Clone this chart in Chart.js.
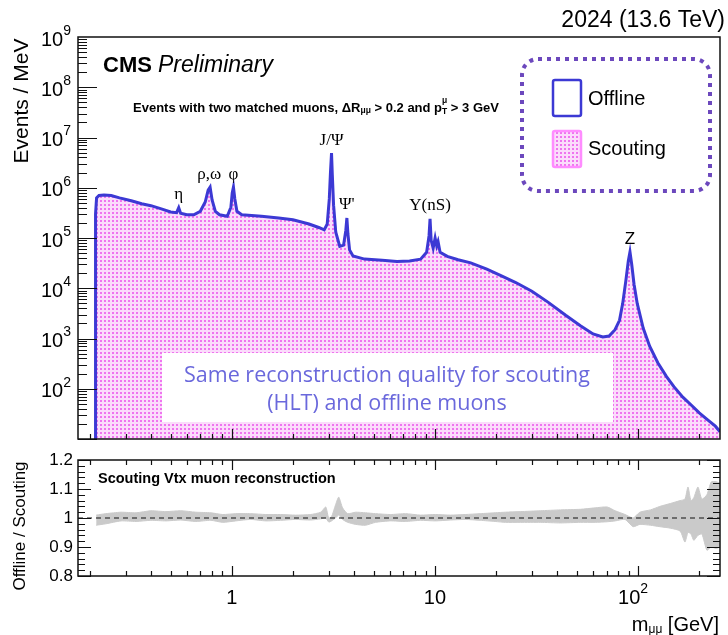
<!DOCTYPE html>
<html>
<head>
<meta charset="utf-8">
<script src="https://cdn.jsdelivr.net/npm/chart.js@4.4.1/dist/chart.umd.min.js"></script>
<style>
  html, body { margin: 0; padding: 0; background: #fff; }
  #wrap { position: relative; width: 728px; height: 635px; overflow: hidden; }
  canvas { position: absolute; left: 0; }
  #top { top: 0; }
  #ratio { top: 450px; }
</style>
</head>
<body>
<div id="wrap">
  <canvas id="top" width="728" height="450"></canvas>
  <canvas id="ratio" width="728" height="185"></canvas>
</div>
<script>
// Dimuon invariant mass spectrum, events per MeV
const massGeV = [
  0.2125, 0.2135, 0.216, 0.222, 0.235, 0.255, 0.28, 0.32, 0.36, 0.40,
  0.45, 0.50, 0.535, 0.548, 0.56, 0.60, 0.65, 0.70, 0.74, 0.765,
  0.782, 0.80, 0.83, 0.87, 0.95, 0.99, 1.005, 1.019, 1.035, 1.06,
  1.12, 1.4, 1.7, 2.0, 2.4, 2.7, 2.85, 2.95, 3.02, 3.06,
  3.097, 3.125, 3.17, 3.25, 3.4, 3.55, 3.64, 3.686, 3.73, 3.8,
  3.95, 4.5, 5.5, 6.5, 7.5, 8.5, 9.1, 9.35, 9.46, 9.58,
  9.8, 10.02, 10.2, 10.36, 10.6, 11.5, 13, 15, 18, 21,
  25, 30, 36, 44, 52, 60, 67, 72, 77, 81,
  84, 87, 89.5, 91.2, 93, 95.5, 99, 106, 114, 125,
  138, 150, 166, 182, 200, 220, 240, 253
];
const offlineEvents = [
  10, 3.0e5, 6.3e5, 7.0e5, 7.2e5, 7.0e5, 6.3e5, 5.5e5, 4.8e5, 4.4e5,
  3.8e5, 3.3e5, 3.2e5, 4.0e5, 3.1e5, 2.9e5, 2.9e5, 3.4e5, 5.2e5, 9.0e5,
  1.03e6, 5.7e5, 3.4e5, 2.9e5, 2.7e5, 4.1e5, 7.9e5, 1.03e6, 6.0e5, 3.4e5,
  2.9e5, 2.7e5, 2.5e5, 2.3e5, 1.9e5, 1.6e5, 1.45e5, 1.9e5, 6.0e5, 2.0e6,
  4.9e6, 1.8e6, 4.5e5, 1.3e5, 6.8e4, 7.2e4, 1.4e5, 2.5e5, 1.2e5, 5.8e4,
  4.4e4, 3.8e4, 3.6e4, 3.4e4, 3.5e4, 3.8e4, 5.2e4, 1.1e5, 2.4e5, 9.0e4,
  6.3e4, 1.0e5, 7.0e4, 8.5e4, 5.2e4, 4.3e4, 3.7e4, 3.2e4, 2.4e4, 1.8e4,
  1.3e4, 8.7e3, 5.3e3, 2.9e3, 1.8e3, 1.23e3, 1.07e3, 1.12e3, 1.5e3, 2.3e3,
  5.0e3, 1.4e4, 3.5e4, 5.3e4, 3.0e4, 1.2e4, 5.0e3, 1.6e3, 700, 330,
  175, 110, 68, 48, 33, 24, 18, 14
];
const scoutingEvents = [
  10, 3.0e5, 6.3e5, 7.0e5, 7.2e5, 7.0e5, 6.3e5, 5.5e5, 4.8e5, 4.4e5,
  3.8e5, 3.3e5, 3.2e5, 4.0e5, 3.1e5, 2.9e5, 2.9e5, 3.4e5, 5.2e5, 9.0e5,
  1.03e6, 5.7e5, 3.4e5, 2.9e5, 2.7e5, 4.1e5, 7.9e5, 1.03e6, 6.0e5, 3.4e5,
  2.9e5, 2.7e5, 2.5e5, 2.3e5, 1.9e5, 1.6e5, 1.45e5, 1.9e5, 6.0e5, 2.0e6,
  4.9e6, 1.8e6, 4.5e5, 1.3e5, 6.8e4, 7.2e4, 1.4e5, 2.5e5, 1.2e5, 5.8e4,
  4.4e4, 3.8e4, 3.6e4, 3.4e4, 3.5e4, 3.8e4, 5.2e4, 1.1e5, 2.4e5, 9.0e4,
  6.3e4, 1.0e5, 7.0e4, 8.5e4, 5.2e4, 4.3e4, 3.7e4, 3.2e4, 2.4e4, 1.8e4,
  1.3e4, 8.7e3, 5.3e3, 2.9e3, 1.8e3, 1.23e3, 1.07e3, 1.12e3, 1.5e3, 2.3e3,
  5.0e3, 1.4e4, 3.5e4, 5.3e4, 3.0e4, 1.2e4, 5.0e3, 1.6e3, 700, 330,
  175, 110, 68, 48, 33, 24, 18, 14
];

// Offline / Scouting ratio uncertainty band
const ratioMass = [
  0.215, 0.24, 0.285, 0.338, 0.40, 0.474, 0.561, 0.665, 0.789, 0.903,
  1.046, 1.24, 1.47, 1.74, 2.06, 2.44, 2.74, 2.90, 3.0, 3.10,
  3.24, 3.36, 3.51, 3.72, 4.07, 4.55, 5.10, 6.04, 7.16, 8.49,
  10.05, 11.9, 14.1, 16.7, 19.8, 22.2, 26.3, 33.0, 41.4, 51.9,
  61.5, 70.4, 77.1, 86.3, 94.5, 102, 115, 128, 144, 161,
  170, 176, 182, 188, 197, 206, 218, 229, 242, 253
];
const ratioLow = [
  0.975, 0.980, 0.990, 0.988, 0.992, 0.990, 0.993, 0.988, 0.992, 0.985,
  0.990, 0.995, 0.990, 0.992, 0.995, 0.993, 0.997, 1.000, 0.986, 0.990,
  1.000, 1.010, 0.995, 0.985, 0.978, 0.975, 0.985, 0.990, 0.988, 0.992,
  0.990, 0.993, 0.995, 0.992, 0.988, 0.985, 0.985, 0.985, 0.983, 0.985,
  0.985, 0.987, 0.990, 0.995, 0.970, 0.978, 0.975, 0.970, 0.965, 0.955,
  0.917, 0.950, 0.945, 0.923, 0.940, 0.945, 0.889, 0.900, 0.895, 0.900
];
const ratioHigh = [
  1.010, 1.015, 1.020, 1.018, 1.025, 1.022, 1.025, 1.020, 1.018, 1.012,
  1.015, 1.015, 1.012, 1.012, 1.010, 1.012, 1.020, 1.038, 1.000, 1.005,
  1.045, 1.072, 1.035, 1.015, 1.020, 1.018, 1.015, 1.012, 1.015, 1.010,
  1.012, 1.010, 1.012, 1.015, 1.018, 1.020, 1.022, 1.025, 1.028, 1.030,
  1.035, 1.038, 1.025, 1.012, 1.000, 1.020, 1.028, 1.040, 1.050, 1.060,
  1.065, 1.107, 1.060, 1.070, 1.107, 1.065, 1.080, 1.124, 1.125, 1.120
];

// Resonance labels
const peakNames = ['η', 'ρ,ω', 'φ', 'J/Ψ', "Ψ'", 'Υ(nS)', 'Z'];
const peakMass = [0.548, 0.775, 1.019, 3.097, 3.686, 9.46, 91.2];

// Axis ticks and labels
const yExponents = [2, 3, 4, 5, 6, 7, 8, 9];
const xLabelValues = [1, 10, 100];
const xLabelBases = ['1', '10', '10'];
const xLabelPowers = ['', '', '2'];
const ratioTickValues = [0.8, 0.9, 1.0, 1.1, 1.2];
const ratioTickTexts = ['0.8', '0.9', '1', '1.1', '1.2'];

const X_MIN = 0.175, X_MAX = 253;
const SANS = '"Liberation Sans", Arial, Helvetica, sans-serif';
const SERIF = '"Liberation Serif", "Times New Roman", serif';
const LINE_BLUE = '#3c39d4';

function pts(xs, ys) { return xs.map((m, i) => ({ x: m, y: ys[i] })); }

function dotPattern() {
  const c = document.createElement('canvas');
  c.width = 4; c.height = 4;
  const g = c.getContext('2d');
  g.fillStyle = '#fbdcfb'; g.fillRect(0, 0, 4, 4);
  g.fillStyle = '#ef74ef'; g.fillRect(0, 0, 2, 2);
  return g.createPattern(c, 'repeat');
}

// Draws a run of text pieces with individual fonts and vertical shifts
function drawRun(ctx, x, y, parts, align, color) {
  ctx.save();
  ctx.textBaseline = 'middle';
  ctx.textAlign = 'left';
  let total = 0;
  for (const p of parts) {
    ctx.font = p.f;
    p.w = p.noAdvance ? 0 : ctx.measureText(p.t).width;
    total += p.w;
  }
  let cx = align === 'right' ? x - total : align === 'center' ? x - total / 2 : x;
  for (const p of parts) {
    ctx.font = p.f;
    ctx.fillStyle = p.c || color || '#000';
    ctx.fillText(p.t, cx, y + (p.dy || 0));
    cx += p.w;
  }
  ctx.restore();
}

function minorLogValues(min, max) {
  const out = [];
  for (let d = -1; d <= 8; d++) {
    for (let k = 1; k <= 9; k++) {
      const v = k * Math.pow(10, d);
      if (v >= min * 0.999 && v <= max * 1.001) out.push({ v, major: k === 1 });
    }
  }
  return out;
}

const pattern = dotPattern();

// ---------- Upper panel ----------
const topPlugin = {
  id: 'topDecor',
  afterDatasetsDraw(chart) {
    const { ctx, scales: { x, y } } = chart;

    // peak labels
    peakNames.forEach((name, i) => {
      let best = 0;
      massGeV.forEach((m, j) => {
        if (Math.abs(Math.log(m / peakMass[i])) < Math.abs(Math.log(massGeV[best] / peakMass[i]))) best = j;
      });
      const px = x.getPixelForValue(peakMass[i]);
      const py = y.getPixelForValue(offlineEvents[best]) - 13;
      const font = name === 'Z' ? '17px ' + SANS : '17px ' + SERIF;
      drawRun(ctx, px, py, [{ t: name, f: font }], 'center');
    });

    // note box
    ctx.save();
    ctx.fillStyle = '#ffffff';
    ctx.fillRect(162, 353, 451, 69);
    ctx.restore();
    const noteFont = '21.5px "Open Sans", Lato, sans-serif';
    drawRun(ctx, 387, 376, [{ t: 'Same reconstruction quality for scouting', f: noteFont }], 'center', '#6a68dc');
    drawRun(ctx, 387, 404, [{ t: '(HLT) and offline muons', f: noteFont }], 'center', '#6a68dc');

    // legend
    ctx.save();
    ctx.strokeStyle = '#6c48bd';
    ctx.lineWidth = 4;
    ctx.setLineDash([4, 5]);
    ctx.beginPath();
    ctx.roundRect(522, 59, 188, 132, 16);
    ctx.stroke();
    ctx.setLineDash([]);
    ctx.strokeStyle = LINE_BLUE;
    ctx.lineWidth = 2.5;
    ctx.beginPath();
    ctx.roundRect(553, 80, 28, 36, 2);
    ctx.stroke();
    ctx.fillStyle = pattern;
    ctx.fillRect(553, 131, 28, 36);
    ctx.strokeStyle = '#ff8cff';
    ctx.lineWidth = 2.5;
    ctx.beginPath();
    ctx.roundRect(553, 131, 28, 36, 2);
    ctx.stroke();
    ctx.restore();
    drawRun(ctx, 588, 99, [{ t: 'Offline', f: '20px ' + SANS }], 'left');
    drawRun(ctx, 588, 149, [{ t: 'Scouting', f: '20px ' + SANS }], 'left');
  },
  afterDraw(chart) {
    const { ctx, chartArea: a, scales: { x, y } } = chart;
    ctx.save();
    ctx.strokeStyle = '#111';
    ctx.lineWidth = 1.5;
    ctx.strokeRect(a.left, a.top, a.right - a.left, a.bottom - a.top);
    ctx.lineWidth = 1.2;
    ctx.beginPath();
    // x ticks along the bottom
    for (const t of minorLogValues(X_MIN, X_MAX)) {
      const px = Math.round(x.getPixelForValue(t.v)) + 0.5;
      const len = t.major ? 10 : 5;
      ctx.moveTo(px, a.bottom); ctx.lineTo(px, a.bottom - len);
    }
    // y ticks along the left
    for (const t of minorLogValues(10, 1e9)) {
      const py = Math.round(y.getPixelForValue(t.v)) + 0.5;
      const len = t.major ? 19 : 9;
      ctx.moveTo(a.left, py); ctx.lineTo(a.left + len, py);
    }
    ctx.stroke();
    ctx.restore();

    // y tick labels
    yExponents.forEach(e => {
      const py = y.getPixelForValue(Math.pow(10, e));
      drawRun(ctx, 71, py + 3, [
        { t: '10', f: '20px ' + SANS },
        { t: String(e), f: '14px ' + SANS, dy: -9 }
      ], 'right');
    });

    // axis title
    ctx.save();
    ctx.translate(22, 101);
    ctx.rotate(-Math.PI / 2);
    drawRun(ctx, 0, 0, [{ t: 'Events / MeV', f: '21px ' + SANS }], 'center');
    ctx.restore();

    // headers
    drawRun(ctx, 725, 21, [{ t: '2024 (13.6 TeV)', f: '23px ' + SANS }], 'right');
    drawRun(ctx, 103, 66, [
      { t: 'CMS ', f: 'bold 22px ' + SANS },
      { t: 'Preliminary', f: 'italic 23px ' + SANS }
    ], 'left');
    const b = 'bold 13px ' + SANS, bs = 'bold 8.5px ' + SANS;
    drawRun(ctx, 133, 108, [
      { t: 'Events with two matched muons, ΔR', f: b },
      { t: 'μμ', f: bs, dy: 3 },
      { t: ' > 0.2 and p', f: b },
      { t: 'μ', f: bs, dy: -7, noAdvance: true },
      { t: 'T', f: bs, dy: 4 },
      { t: ' > 3 GeV', f: b }
    ], 'left');
  }
};

new Chart(document.getElementById('top'), {
  type: 'line',
  data: {
    datasets: [
      {
        label: 'Offline',
        data: pts(massGeV, offlineEvents),
        borderColor: LINE_BLUE,
        borderWidth: 3,
        pointRadius: 0,
        tension: 0,
        fill: false
      },
      {
        label: 'Scouting',
        data: pts(massGeV, scoutingEvents),
        borderColor: 'rgba(0,0,0,0)',
        borderWidth: 0,
        backgroundColor: pattern,
        pointRadius: 0,
        tension: 0,
        fill: 'start'
      }
    ]
  },
  options: {
    responsive: false,
    animation: false,
    devicePixelRatio: 1,
    layout: { padding: { left: 78, right: 8, top: 37, bottom: 11 } },
    plugins: { legend: { display: false }, tooltip: { enabled: false } },
    scales: {
      x: { type: 'logarithmic', min: X_MIN, max: X_MAX, display: false },
      y: { type: 'logarithmic', min: 10, max: 1e9, display: false }
    }
  },
  plugins: [topPlugin]
});

// ---------- Ratio panel ----------
const ratioPlugin = {
  id: 'ratioDecor',
  afterDraw(chart) {
    const { ctx, chartArea: a, scales: { x, y } } = chart;
    ctx.save();
    ctx.strokeStyle = '#111';
    ctx.lineWidth = 1.5;
    ctx.strokeRect(a.left, a.top, a.right - a.left, a.bottom - a.top);
    ctx.lineWidth = 1.2;
    ctx.beginPath();
    for (const t of minorLogValues(X_MIN, X_MAX)) {
      const px = Math.round(x.getPixelForValue(t.v)) + 0.5;
      const len = t.major ? 10 : 5;
      ctx.moveTo(px, a.bottom); ctx.lineTo(px, a.bottom - len);
      ctx.moveTo(px, a.top); ctx.lineTo(px, a.top + len);
    }
    for (let k = 0; k <= 20; k++) {
      const v = 0.8 + k * 0.02;
      const py = Math.round(y.getPixelForValue(v)) + 0.5;
      const len = k % 5 === 0 ? 13 : 7;
      ctx.moveTo(a.left, py); ctx.lineTo(a.left + len, py);
      ctx.moveTo(a.right, py); ctx.lineTo(a.right - len, py);
    }
    ctx.stroke();
    ctx.restore();

    ratioTickValues.forEach((v, i) => {
      drawRun(ctx, 73, y.getPixelForValue(v), [{ t: ratioTickTexts[i], f: '17px ' + SANS }], 'right');
    });
    xLabelValues.forEach((v, i) => {
      const parts = [{ t: xLabelBases[i], f: '20px ' + SANS }];
      if (xLabelPowers[i]) parts.push({ t: xLabelPowers[i], f: '14px ' + SANS, dy: -9 });
      const shift = xLabelPowers[i] ? -5 : 0;
      drawRun(ctx, x.getPixelForValue(v) + shift, 148, parts, 'center');
    });
    drawRun(ctx, 719, 175, [
      { t: 'm', f: '20px ' + SANS },
      { t: 'μμ', f: '12px ' + SANS, dy: 5 },
      { t: ' [GeV]', f: '20px ' + SANS }
    ], 'right');
    ctx.save();
    ctx.translate(20, 76);
    ctx.rotate(-Math.PI / 2);
    drawRun(ctx, 0, 0, [{ t: 'Offline / Scouting', f: '17px ' + SANS }], 'center');
    ctx.restore();
    drawRun(ctx, 98, 29, [{ t: 'Scouting Vtx muon reconstruction', f: 'bold 14.5px ' + SANS }], 'left');
  }
};

new Chart(document.getElementById('ratio'), {
  type: 'line',
  data: {
    datasets: [
      {
        label: 'unity',
        data: [{ x: X_MIN, y: 1 }, { x: X_MAX, y: 1 }],
        borderColor: '#111',
        borderWidth: 1.2,
        borderDash: [5, 4],
        pointRadius: 0,
        fill: false
      },
      {
        label: 'low',
        data: pts(ratioMass, ratioLow),
        borderColor: '#cacaca',
        borderWidth: 1,
        pointRadius: 0,
        tension: 0.2,
        fill: false
      },
      {
        label: 'high',
        data: pts(ratioMass, ratioHigh),
        borderColor: '#cacaca',
        borderWidth: 1,
        backgroundColor: '#cacaca',
        pointRadius: 0,
        tension: 0.2,
        fill: '-1'
      }
    ]
  },
  options: {
    responsive: false,
    animation: false,
    devicePixelRatio: 1,
    layout: { padding: { left: 78, right: 8, top: 10, bottom: 59 } },
    plugins: { legend: { display: false }, tooltip: { enabled: false } },
    scales: {
      x: { type: 'logarithmic', min: X_MIN, max: X_MAX, display: false },
      y: { type: 'linear', min: 0.8, max: 1.2, display: false }
    }
  },
  plugins: [ratioPlugin]
});
</script>
</body>
</html>
